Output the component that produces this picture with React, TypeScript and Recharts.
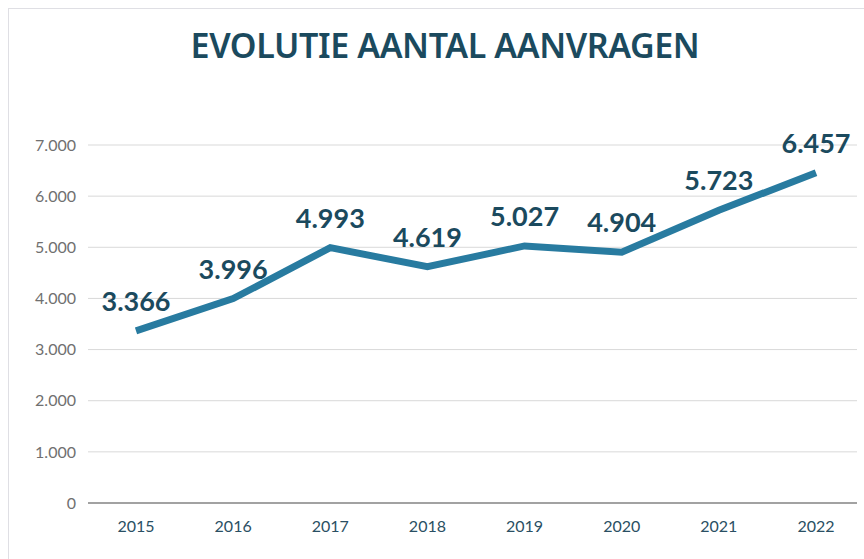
import { LineChart, Line, XAxis, YAxis, CartesianGrid, LabelList } from "recharts";

const years = ["2015", "2016", "2017", "2018", "2019", "2020", "2021", "2022"];
const aanvragen = [3366, 3996, 4993, 4619, 5027, 4904, 5723, 6457];
const yTicks = [0, 1000, 2000, 3000, 4000, 5000, 6000, 7000];

const data = years.map((year, i) => ({ year, value: aanvragen[i] }));

// 1000 -> "1.000" (Belgische notatie)
const fmt = (v: number) => v.toLocaleString("de-DE");

const DARK = "#1b4a5e";
const LINE = "#287ba0";

const App = () => {
  return (
    <div style={{ position: "absolute", left: 0, top: 0, width: 864, height: 559, background: "#fff" }}>
      <div
        style={{
          position: "absolute",
          left: 8,
          top: 8,
          right: 0,
          bottom: 0,
          borderLeft: "1px solid #dfdfe4",
          borderTop: "1px solid #dfdfe4",
        }}
      />
      <div
        style={{
          position: "absolute",
          top: 22,
          left: 0,
          width: 890,
          textAlign: "center",
          fontFamily: "'Noto Sans', sans-serif",
          fontWeight: 600,
          fontSize: 34,
          letterSpacing: -0.4,
          color: DARK,
        }}
      >
        EVOLUTIE AANTAL AANVRAGEN
      </div>
      <LineChart
        width={864}
        height={559}
        data={data}
        margin={{ top: 145, right: 7, bottom: 26, left: 0 }}
        style={{ position: "absolute", left: 0, top: 0 }}
      >
        <CartesianGrid vertical={false} stroke="#d9d9d9" />
        <XAxis
          dataKey="year"
          height={30}
          padding={{ left: 48, right: 41 }}
          axisLine={{ stroke: "#595959" }}
          tickLine={false}
          tickMargin={12}
          tick={{ fill: "#2a4f63", fontSize: 16, fontFamily: "Lato, sans-serif" }}
        />
        <YAxis
          width={88}
          domain={[0, 7000]}
          ticks={yTicks}
          tickFormatter={fmt}
          axisLine={false}
          tickLine={false}
          tickMargin={6}
          tick={{ fill: "#707070", fontSize: 16, fontFamily: "Lato, sans-serif" }}
        />
        <Line
          type="linear"
          dataKey="value"
          stroke={LINE}
          strokeWidth={7}
          dot={false}
          isAnimationActive={false}
        >
          <LabelList
            dataKey="value"
            position="top"
            offset={20}
            formatter={(v: any) => fmt(Number(v))}
            style={{ fill: DARK, fontSize: 27, fontWeight: 700, fontFamily: "Lato, sans-serif" }}
          />
        </Line>
      </LineChart>
    </div>
  );
};

export default App;
